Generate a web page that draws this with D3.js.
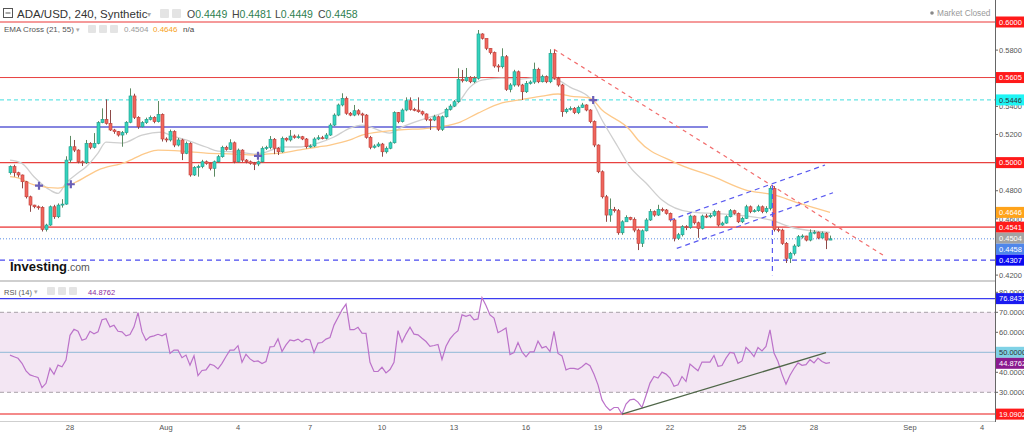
<!DOCTYPE html>
<html><head><meta charset="utf-8">
<script src="https://cdn.jsdelivr.net/npm/d3@7"></script>
<style>body{margin:0;background:#fff;}svg{display:block;font-family:"Liberation Sans",Arial,sans-serif;}</style>
</head><body><svg id="c" width="1024" height="432"></svg>
<script>
// ---------- DATA ----------
const opens=[.4928,.4971,.4928,.4912,.4864,.4757,.4698,.4686,.4682,.4525,.4556,.4686,.4615,.4698,.4705,.5018,.5113,.5089,.5006,.4999,
.5137,.5109,.5137,.5284,.5308,.5279,.5232,.5220,.5196,.5213,.5287,.5474,.5322,.5255,.5284,.5308,.5322,.5291,.5343,.5168,
.5161,.5220,.5125,.5161,.5066,.5137,.4912,.4966,.4971,.5006,.4995,.4959,.5006,.5042,.5109,.5094,.5141,.5006,.5089,.5018,
.5006,.4995,.4990,.5006,.5102,.5108,.5166,.5102,.5077,.5173,.5161,.5189,.5180,.5184,.5168,.5113,.5118,.5168,.5177,.5173,
.5196,.5267,.5338,.5410,.5457,.5351,.5338,.5369,.5346,.5338,.5180,.5109,.5118,.5132,.5077,.5102,.5141,.5355,.5291,.5374,
.5440,.5379,.5374,.5362,.5346,.5308,.5303,.5326,.5237,.5326,.5379,.5402,.5433,.5592,.5582,.5607,.5575,.5600,.5915,.5884,
.5813,.5782,.5687,.5682,.5753,.5521,.5552,.5646,.5552,.5504,.5564,.5573,.5664,.5575,.5611,.5575,.5777,.5600,.5552,.5362,
.5379,.5386,.5355,.5393,.5410,.5374,.5291,.5125,.4935,.4757,.4627,.4668,.4658,.4501,.4579,.4611,.4597,.4520,.4426,.4515,
.4592,.4651,.4627,.4668,.4663,.4639,.4592,.4462,.4487,.4544,.4540,.4620,.4572,.4532,.4620,.4615,.4625,.4651,.4556,.4570,
.4615,.4658,.4639,.4579,.4604,.4686,.4651,.4658,.4686,.4651,.4675,.4817,.4525,.4520,.4426,.4319,.4355,.4407,.4473,.4478,
.4449,.4501,.4505,.4464,.4499,.4449];
const highs=[.4980,.4985,.4935,.4915,.4870,.4765,.4700,.4695,.4690,.4565,.4695,.4700,.4710,.4740,.5045,.5190,.5161,.5095,.5015,.5161,
.5145,.5210,.5295,.5386,.5450,.5374,.5240,.5225,.5225,.5295,.5528,.5490,.5330,.5295,.5320,.5335,.5330,.5438,.5350,.5180,
.5235,.5230,.5175,.5170,.5150,.5145,.4975,.4985,.5020,.5015,.5000,.5015,.5055,.5120,.5120,.5166,.5150,.5100,.5095,.5025,
.5015,.5005,.5015,.5115,.5120,.5189,.5175,.5110,.5185,.5180,.5232,.5200,.5200,.5190,.5175,.5130,.5180,.5195,.5190,.5210,
.5280,.5350,.5420,.5493,.5470,.5360,.5410,.5380,.5355,.5345,.5190,.5130,.5145,.5140,.5115,.5150,.5365,.5360,.5385,.5464,
.5464,.5390,.5464,.5370,.5350,.5315,.5340,.5335,.5335,.5390,.5415,.5445,.5671,.5659,.5673,.5615,.5615,.5943,.5920,.5880,
.5815,.5790,.5700,.5813,.5765,.5565,.5660,.5655,.5560,.5580,.5585,.5711,.5675,.5625,.5620,.5806,.5806,.5610,.5560,.5390,
.5400,.5395,.5405,.5425,.5415,.5380,.5300,.5130,.4945,.4770,.4745,.4685,.4670,.4590,.4625,.4615,.4610,.4530,.4525,.4605,
.4670,.4660,.4700,.4680,.4670,.4645,.4600,.4500,.4555,.4555,.4630,.4625,.4580,.4630,.4635,.4640,.4665,.4660,.4580,.4625,
.4670,.4665,.4645,.4615,.4700,.4695,.4670,.4700,.4695,.4690,.4833,.4833,.4540,.4530,.4435,.4365,.4420,.4485,.4490,.4480,
.4525,.4520,.4510,.4510,.4505,.4481];
const lows=[.4915,.4900,.4895,.4817,.4745,.4650,.4675,.4665,.4510,.4510,.4550,.4600,.4605,.4680,.4700,.5000,.5075,.4995,.4976,.4990,
.5095,.5100,.5130,.5280,.5270,.5225,.5205,.5185,.5113,.5200,.5280,.5310,.5240,.5250,.5275,.5300,.5280,.5285,.5150,.5145,
.5150,.5110,.5115,.5018,.5060,.4900,.4905,.4900,.4960,.4985,.4945,.4900,.5000,.5035,.5085,.5090,.4995,.5000,.5005,.4995,
.4985,.4947,.4975,.5000,.5090,.5095,.5060,.5054,.5070,.5150,.5150,.5170,.5170,.5160,.5100,.5105,.5110,.5160,.5165,.5165,
.5190,.5260,.5330,.5400,.5340,.5330,.5330,.5335,.5284,.5170,.5095,.5100,.5110,.5042,.5065,.5095,.5135,.5280,.5285,.5365,
.5370,.5365,.5355,.5335,.5295,.5232,.5295,.5225,.5225,.5320,.5370,.5395,.5425,.5570,.5575,.5565,.5565,.5590,.5875,.5800,
.5770,.5675,.5646,.5670,.5510,.5500,.5540,.5540,.5445,.5495,.5555,.5560,.5565,.5570,.5565,.5565,.5590,.5540,.5326,.5350,
.5370,.5345,.5345,.5390,.5365,.5280,.5110,.4925,.4745,.4579,.4579,.4645,.4487,.4487,.4595,.4590,.4505,.4378,.4400,.4510,
.4585,.4615,.4620,.4650,.4630,.4580,.4440,.4450,.4475,.4520,.4530,.4560,.4465,.4525,.4605,.4605,.4615,.4545,.4550,.4565,
.4610,.4630,.4570,.4570,.4600,.4640,.4645,.4650,.4640,.4640,.4660,.4510,.4505,.4415,.4286,.4286,.4340,.4400,.4460,.4440,
.4440,.4490,.4455,.4460,.4385,.4449];
const closes=[.4971,.4928,.4912,.4864,.4757,.4698,.4686,.4682,.4525,.4556,.4686,.4615,.4698,.4705,.5018,.5113,.5089,.5006,.4999,.5137,
.5109,.5137,.5284,.5308,.5279,.5232,.5220,.5196,.5213,.5287,.5474,.5322,.5255,.5284,.5308,.5322,.5291,.5343,.5168,.5161,
.5220,.5125,.5161,.5066,.5137,.4912,.4966,.4971,.5006,.4995,.4959,.5006,.5042,.5109,.5094,.5141,.5006,.5089,.5018,.5006,
.4995,.4990,.5006,.5102,.5108,.5166,.5102,.5077,.5173,.5161,.5189,.5180,.5184,.5168,.5113,.5118,.5168,.5177,.5173,.5196,
.5267,.5338,.5410,.5457,.5351,.5338,.5369,.5346,.5338,.5180,.5109,.5118,.5132,.5077,.5102,.5141,.5355,.5291,.5374,.5440,
.5379,.5374,.5362,.5346,.5308,.5303,.5326,.5237,.5326,.5379,.5402,.5433,.5592,.5582,.5607,.5575,.5600,.5915,.5884,.5813,
.5782,.5687,.5682,.5753,.5521,.5552,.5646,.5552,.5504,.5564,.5573,.5664,.5575,.5611,.5575,.5777,.5600,.5552,.5362,.5379,
.5386,.5355,.5393,.5410,.5374,.5291,.5125,.4935,.4757,.4627,.4668,.4658,.4501,.4579,.4611,.4597,.4520,.4426,.4515,.4592,
.4651,.4627,.4668,.4663,.4639,.4592,.4462,.4487,.4544,.4540,.4620,.4572,.4532,.4620,.4615,.4625,.4651,.4556,.4570,.4615,
.4658,.4639,.4579,.4604,.4686,.4651,.4658,.4686,.4651,.4675,.4817,.4525,.4520,.4426,.4319,.4355,.4407,.4473,.4478,.4449,
.4501,.4505,.4464,.4499,.4449,.4458];
const firstCandleUTC=[2022,6,25,12]; // Jul 25 2022 12:00, 4h candles
const ema21Idx=[0,3,6,10,12,14,17,19,22,24,28,33,38,40,44,49,52,57,61,64,68,72,77,81,85,88,95,98,105,108,112,115,118,123,127,133,137,140,145,148,152,155,159,163,170,182,190,196,205];
const ema21Val=[.5018,.4995,.4900,.4805,.4781,.4855,.4926,.4969,.5068,.5146,.5139,.5196,.5217,.5196,.5161,.5111,.5082,.5075,.5061,.5075,.5111,.5111,.5139,.5182,.5246,.5267,.5210,.5253,.5324,.5352,.5424,.5537,.5587,.5601,.5594,.5608,.5587,.5537,.5459,.5303,.5111,.4969,.4855,.4734,.4649,.4627,.4592,.4535,.4504];
const ema55Idx=[0,2,6,12,16,22,29,34,37,43,49,56,61,64,68,72,77,80,85,88,97,105,112,117,123,127,133,137,140,145,148,155,157,166,176,184,191,197,205];
const ema55Val=[.4900,.4891,.4841,.4819,.4855,.4947,.5004,.5068,.5089,.5082,.5068,.5061,.5054,.5061,.5068,.5089,.5111,.5125,.5161,.5196,.5232,.5246,.5282,.5352,.5424,.5445,.5473,.5488,.5473,.5459,.5374,.5232,.5161,.5004,.4898,.4805,.4770,.4713,.4646];
const crossIdx=[7.25,15.2,62,145.8];
const crossVal=[.4836,.4846,.5048,.5445];
const rsi=[48.6,47.8,47.0,44.5,40.7,38.7,38.0,37.4,32.3,34.5,42.0,39.0,43.6,42.8,46.1,58.5,61.5,60.5,56.0,56.8,
60.5,59.3,60.2,66.3,66.8,62.7,63.5,60.5,60.2,58.2,58.9,62.7,69.8,60.2,56.0,57.7,58.2,59.0,58.2,59.3,
49.4,51.1,51.1,47.3,48.6,43.6,48.3,38.4,40.9,41.2,44.0,43.4,41.7,44.5,47.9,51.1,51.1,53.3,45.0,49.0,
46.7,45.4,45.7,44.4,45.4,52.7,52.9,56.7,50.4,53.7,
56.2,55.7,56.6,55.2,56.6,56.2,49.9,54.6,54.9,56.6,57.4,63.6,67.4,71.2,74.1,61.3,61.3,62.5,59.6,59.5,
45.0,40.4,40.4,42.5,39.7,41.4,45.0,60.8,55.1,59.1,62.5,59.1,58.7,57.0,55.4,53.0,53.4,53.9,46.4,53.0,
56.7,59.1,60.8,68.7,68.0,68.7,66.2,66.7,77.3,73.4,68.7,67.1,59.8,60.9,62.1,48.9,49.9,54.9,50.2,47.7,
50.2,50.2,55.6,52.2,52.9,50.4,
60.5,49.4,48.2,41.2,42.0,42.0,41.5,42.8,44.5,43.3,39.0,33.7,26.2,22.9,20.9,22.4,22.4,19.1,24.1,26.2,
26.6,25.1,22.4,28.4,34.6,37.9,37.1,40.1,39.1,37.1,33.0,33.8,37.9,35.4,44.1,42.4,40.8,45.1,45.1,45.1,
48.4,43.0,43.4,47.1,49.9,49.6,44.5,45.7,52.5,50.4,47.9,52.4,50.7,52.9,61.2,49.6,45.4,39.1,34.1,38.5,
41.9,44.7,43.5,43.8,46.3,44.7,47.1,45.4,44.5,44.88];
// drawings: [index, value]
const redTrend=[[136,.5806],[218.25,.4342]];
const chanUpper=[[165,.4591],[203.75,.4983]];
const chanLower=[[166.7,.4390],[205.75,.4786]];
const vLine=[[190.6,.4840],[190.6,.4199]];
const rsiTrend=[[153,19.1],[204,49.8]];
const redLevels=[0.6000,0.5605,0.5000,0.4541];
const cyanLevel=0.5446, blueLevel=0.5253, blueLevelEnd=174.5, lastPrice=0.4458, supportLevel=0.4307;
const ema21Last=0.4504, ema55Last=0.4646;
const priceTicks=[0.42,0.44,0.46,0.48,0.50,0.52,0.54,0.56,0.58,0.60];
const rsiTicks=[20,30,40,50,60,70,80];
const rsiLast=44.8762, rsiMax=76.8437, rsiMin=19.0902;
const xTickDates=[[2022,6,28],[2022,7,1],[2022,7,4],[2022,7,7],[2022,7,10],[2022,7,13],[2022,7,16],[2022,7,19],[2022,7,22],[2022,7,25],[2022,7,28],[2022,8,1],[2022,8,4]];
const xTickLabels=["28","Aug","4","7","10","13","16","19","22","25","28","Sep","4"];
const ohlcLast={O:"0.4449",H:"0.4481",L:"0.4449",C:"0.4458"};

// ---------- SCALES ----------
const svg=d3.select("#c");
const W=1024, AX=995;
const x=d3.scaleUtc().domain([new Date(Date.UTC(2022,6,28)),new Date(Date.UTC(2022,8,4))]).range([70,982]);
const t0=Date.UTC(...firstCandleUTC), step=4*3600*1000;
const tx=i=>x(new Date(t0+i*step));
const yP=d3.scaleLinear().domain([0.42,0.60]).range([275.1,22]);
const yR=d3.scaleLinear().domain([30,70]).range([392.3,312.3]);

svg.append("rect").attr("width",W).attr("height",432).attr("fill","#fff");
const defs=svg.append("defs");
defs.append("clipPath").attr("id","cp").append("rect").attr("x",0).attr("y",0).attr("width",AX).attr("height",280);
defs.append("clipPath").attr("id","cr").append("rect").attr("x",0).attr("y",283).attr("width",AX).attr("height",138);

// ---------- PRICE PANEL ----------
const gp=svg.append("g").attr("clip-path","url(#cp)");
const hl=(v,col,w,dash,x2)=>gp.append("line").attr("x1",0).attr("x2",x2==null?AX:x2).attr("y1",yP(v)).attr("y2",yP(v))
  .attr("stroke",col).attr("stroke-width",w).attr("stroke-dasharray",dash||null);
hl(redLevels[0],"#f59a9a",2);
hl(redLevels[1],"#e8413f",1);
hl(redLevels[2],"#e8413f",1.2);
hl(redLevels[3],"#f06a6a",1.6);
hl(cyanLevel,"#3fdede",1,"4,3");
hl(blueLevel,"#5c5cd6",1.6,null,tx(blueLevelEnd));
hl(lastPrice,"#5b8ee6",1,"1,2");
hl(supportLevel,"#4a4af0",1.2,"5,4");

const line=d3.line().curve(d3.curveMonotoneX);
gp.append("path").attr("d",line(ema21Idx.map((d,i)=>[tx(d),yP(ema21Val[i])]))).attr("fill","none").attr("stroke","#cfcfcf").attr("stroke-width",1.3);
gp.append("path").attr("d",line(ema55Idx.map((d,i)=>[tx(d),yP(ema55Val[i])]))).attr("fill","none").attr("stroke","#fdc98a").attr("stroke-width",1.3);

const candles=closes.map((c,i)=>({i,o:opens[i],h:highs[i],l:lows[i],c}));
const cg=gp.append("g");
candles.forEach(d=>{
  const up=d.c>=d.o, cx=Math.round(tx(d.i))+0.5;
  cg.append("line").attr("x1",cx).attr("x2",cx).attr("y1",yP(d.h)).attr("y2",yP(d.l))
    .attr("stroke",up?"#5d8a62":"#8d4a48").attr("stroke-width",1);
  const yt=yP(Math.max(d.o,d.c)), yb=yP(Math.min(d.o,d.c));
  cg.append("rect").attr("x",cx-1.5).attr("y",yt).attr("width",3).attr("height",Math.max(1,yb-yt))
    .attr("fill",up?"#34d3be":"#f0655d").attr("stroke",up?"#1f9c8a":"#c0403a").attr("stroke-width",0.6);
});

const seg=(p,col,dash,w)=>gp.append("line").attr("x1",tx(p[0][0])).attr("y1",yP(p[0][1])).attr("x2",tx(p[1][0])).attr("y2",yP(p[1][1]))
  .attr("stroke",col).attr("stroke-width",w||1.2).attr("stroke-dasharray",dash);
seg(redTrend,"#f26d6d","4,4");
seg(chanUpper,"#5a5af0","5,4");
seg(chanLower,"#5a5af0","5,4");
seg(vLine,"#5a5af0","5,4");
crossIdx.forEach((d,i)=>{
  const cx=tx(d), cy=yP(crossVal[i]);
  gp.append("path").attr("d",`M${cx-4},${cy}H${cx+4}M${cx},${cy-4}V${cy+4}`).attr("stroke","#6a5fb8").attr("stroke-width",2.2);
});

// logo
const lg=svg.append("text").attr("x",10).attr("y",271);
lg.append("tspan").text("Investing").attr("font-weight","bold").attr("font-size",13).attr("fill","#111");
lg.append("tspan").text(".com").attr("font-size",10.5).attr("fill","#555");

// separator
svg.append("line").attr("x1",0).attr("x2",AX).attr("y1",281).attr("y2",281).attr("stroke","#cfcfcf").attr("stroke-width",2);

// ---------- RSI PANEL ----------
const gr=svg.append("g").attr("clip-path","url(#cr)");
gr.append("rect").attr("x",0).attr("width",AX).attr("y",yR(70)).attr("height",yR(30)-yR(70)).attr("fill","#f3e6f3");
const rl=(v,col,w,dash)=>gr.append("line").attr("x1",0).attr("x2",AX).attr("y1",yR(v)).attr("y2",yR(v)).attr("stroke",col).attr("stroke-width",w).attr("stroke-dasharray",dash||null);
rl(70,"#a8a0a8",1,"4,3");
rl(30,"#a8a0a8",1,"4,3");
rl(50,"#8fbad6",1);
rl(rsiMax,"#3c3cf0",1.4);
rl(rsiMin,"#f48a8a",2);
gr.append("path").attr("d",d3.line()(rsi.map((v,i)=>[tx(i),yR(v)]))).attr("fill","none").attr("stroke","#bb72c9").attr("stroke-width",1.2);
gr.append("line").attr("x1",tx(rsiTrend[0][0])).attr("y1",yR(rsiTrend[0][1])).attr("x2",tx(rsiTrend[1][0])).attr("y2",yR(rsiTrend[1][1]))
  .attr("stroke","#4f6648").attr("stroke-width",1.3);

// ---------- AXES ----------
svg.append("line").attr("x1",AX+0.5).attr("x2",AX+0.5).attr("y1",0).attr("y2",422).attr("stroke","#666").attr("stroke-width",1);
svg.append("line").attr("x1",0).attr("x2",AX).attr("y1",421.5).attr("y2",421.5).attr("stroke","#cfcfcf").attr("stroke-width",1);
priceTicks.forEach(v=>{
  svg.append("line").attr("x1",AX).attr("x2",AX+3).attr("y1",yP(v)).attr("y2",yP(v)).attr("stroke","#666");
  svg.append("text").attr("x",999).attr("y",yP(v)+2.7).attr("font-size",7.5).attr("fill","#555").text(v.toFixed(4));
});
rsiTicks.forEach(v=>{
  svg.append("line").attr("x1",AX).attr("x2",AX+3).attr("y1",yR(v)).attr("y2",yR(v)).attr("stroke","#666");
  svg.append("text").attr("x",999).attr("y",yR(v)+2.7).attr("font-size",7.5).attr("fill","#555").text(v.toFixed(4));
});
xTickDates.forEach((d,i)=>{
  svg.append("text").attr("x",x(new Date(Date.UTC(...d)))).attr("y",430).attr("text-anchor","middle").attr("font-size",7.5).attr("fill","#555").text(xTickLabels[i]);
});

function labels(list,scale){
  list.sort((a,b)=>scale(a.v)-scale(b.v));
  let prev=-100;
  list.forEach(l=>{
    let y=Math.max(scale(l.v),prev+11); prev=y;
    svg.append("rect").attr("x",AX+1).attr("y",y-5.5).attr("width",W-AX).attr("height",11).attr("fill",l.bg);
    svg.append("text").attr("x",999).attr("y",y+2.7).attr("font-size",7.5).attr("fill",l.fg).text(l.v.toFixed(4));
  });
}
labels([{v:redLevels[0],bg:"#ff1a1a",fg:"#fff"},{v:redLevels[1],bg:"#ff1a1a",fg:"#fff"},{v:cyanLevel,bg:"#1ff5f5",fg:"#333"},
  {v:redLevels[2],bg:"#ff1a1a",fg:"#fff"},{v:ema55Last,bg:"#ffa31a",fg:"#fff"},{v:redLevels[3],bg:"#ff1a1a",fg:"#fff"},
  {v:ema21Last,bg:"#a3a3a3",fg:"#fff"},{v:lastPrice,bg:"#4f86ea",fg:"#fff"},{v:supportLevel,bg:"#0a0af0",fg:"#fff"}],yP);
labels([{v:rsiMax,bg:"#1a1af0",fg:"#fff"},{v:50,bg:"#7fd2e6",fg:"#333"},{v:rsiLast,bg:"#8a1a8e",fg:"#fff"},{v:rsiMin,bg:"#ff1a1a",fg:"#fff"}],yR);

// ---------- HEADERS ----------
const icon=(xx,yy,s)=>svg.append("rect").attr("x",xx).attr("y",yy).attr("width",s).attr("height",s).attr("rx",1).attr("fill","#e4e4e4");
svg.append("rect").attr("x",3.5).attr("y",8.5).attr("width",9).attr("height",9).attr("fill","none").attr("stroke","#555");
svg.append("line").attr("x1",5.5).attr("x2",10.5).attr("y1",13).attr("y2",13).attr("stroke","#555");
svg.append("text").attr("x",17).attr("y",18).attr("font-size",11.5).attr("fill","#333").text("ADA/USD, 240, Synthetic");
svg.append("text").attr("x",147).attr("y",17).attr("font-size",8).attr("fill","#aaa").text("▾");
icon(160,9,9); icon(172,9,9);
const oh=svg.append("text").attr("y",18).attr("font-size",10.5);
[["O",187],["H",232],["L",275],["C",318]].forEach(([k,xx])=>{
  const t=svg.append("text").attr("x",xx).attr("y",18).attr("font-size",10.5);
  t.append("tspan").attr("fill","#444").text(k);
  t.append("tspan").attr("fill","#2e8050").text(ohlcLast[k]);
});
svg.append("text").attr("x",4).attr("y",32).attr("font-size",8).attr("fill","#555").text("EMA Cross (21, 55)");
svg.append("text").attr("x",76).attr("y",31.5).attr("font-size",7).attr("fill","#aaa").text("▾");
icon(88,25,8); icon(99,25,8); icon(110,25,8);
svg.append("text").attr("x",124).attr("y",32).attr("font-size",8).attr("fill","#9a9a9a").text(ema21Last.toFixed(4));
svg.append("text").attr("x",153).attr("y",32).attr("font-size",8).attr("fill","#f7a21b").text(ema55Last.toFixed(4));
svg.append("text").attr("x",183).attr("y",32).attr("font-size",8).attr("fill","#444").text("n/a");
svg.append("circle").attr("cx",932).attr("cy",13).attr("r",1.8).attr("fill","#888");
svg.append("text").attr("x",937).attr("y",16).attr("font-size",8.3).attr("fill","#999").text("Market Closed");
svg.append("text").attr("x",4).attr("y",294.5).attr("font-size",7.5).attr("fill","#555").text("RSI (14)");
svg.append("text").attr("x",34).attr("y",294).attr("font-size",7).attr("fill","#aaa").text("▾");
icon(47,287,8); icon(58,287,8); icon(69,287,8);
svg.append("text").attr("x",88).attr("y",294.5).attr("font-size",7.5).attr("fill","#8e2a9c").text(rsiLast.toFixed(4));
</script></body></html>
